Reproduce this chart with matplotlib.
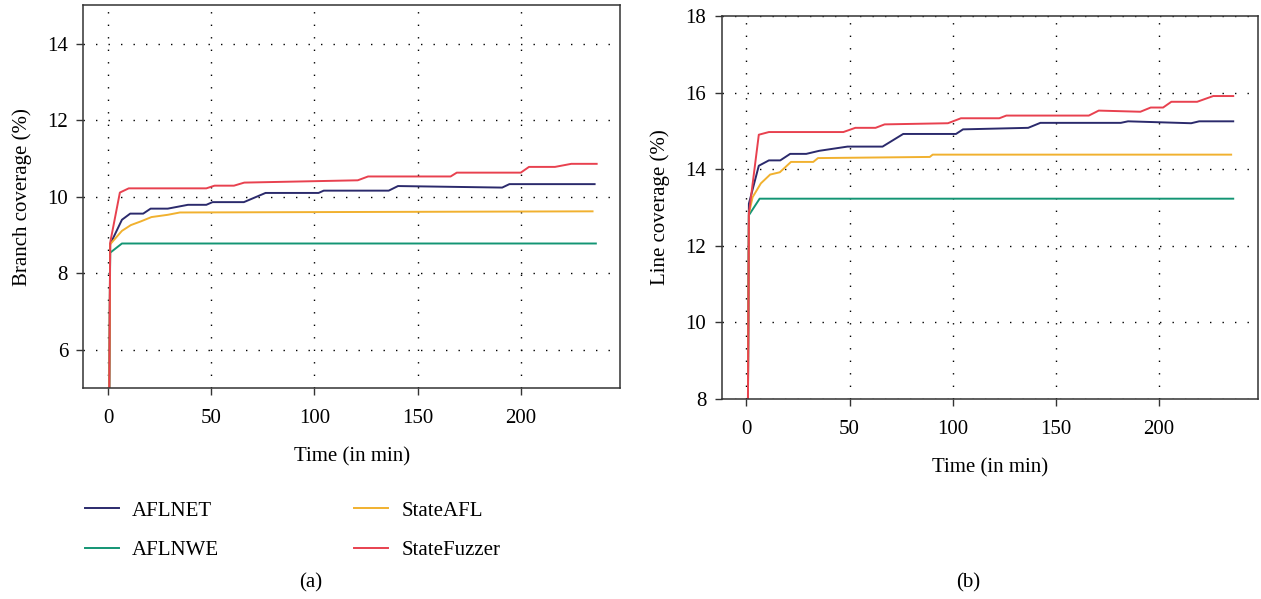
import numpy as np
import matplotlib
matplotlib.use("Agg")
import matplotlib.pyplot as plt

plt.rcParams['font.family'] = ['Liberation Serif', 'DejaVu Serif']
plt.rcParams['font.size'] = 15

names = ["AFLNET", "AFLNWE", "StateAFL", "StateFuzzer"]
colors = ["#2b2a6c", "#139574", "#f1b12f", "#e8414f"]

# (a) branch coverage, time in minutes
br_aflnet_t = [0, 1, 6.7, 10.7, 17, 20.6, 28.9, 38.7, 47.6, 50.6, 65.8, 76.3, 102, 104.5, 136, 140.5, 191, 194.5, 235.8]
br_aflnet_v = [0, 8.76, 9.40, 9.56, 9.56, 9.69, 9.69, 9.79, 9.79, 9.86, 9.86, 10.10, 10.10, 10.16, 10.16, 10.28, 10.24, 10.33, 10.33]
br_aflnwe_t = [0, 1, 6.7, 236.4]
br_aflnwe_v = [0, 8.54, 8.78, 8.78]
br_stateafl_t = [0, 1, 6.7, 11, 16, 21, 29, 34.8, 234.8]
br_stateafl_v = [0, 8.76, 9.11, 9.26, 9.36, 9.47, 9.53, 9.59, 9.62]
br_statefz_t = [0, 1, 5.7, 10, 47.6, 51.6, 61, 66, 121, 126, 166, 169, 200, 204, 216.6, 224.5, 236.8]
br_statefz_v = [0, 8.8, 10.11, 10.22, 10.22, 10.29, 10.29, 10.37, 10.43, 10.53, 10.53, 10.63, 10.63, 10.78, 10.78, 10.86, 10.86]

# (b) line coverage
ln_aflnet_t = [0, 1.2, 6, 10.9, 16.4, 21.2, 29, 35.3, 49, 66, 76, 101.6, 105, 136.6, 142.5, 181.5, 185, 215.6, 219.5, 236]
ln_aflnet_v = [0, 13.10, 14.09, 14.23, 14.23, 14.40, 14.40, 14.48, 14.59, 14.59, 14.92, 14.92, 15.04, 15.08, 15.21, 15.21, 15.25, 15.20, 15.25, 15.25]
ln_aflnwe_t = [0, 1.2, 6.4, 236]
ln_aflnwe_v = [0, 12.80, 13.23, 13.23]
ln_stateafl_t = [0, 1.2, 3, 7, 11.5, 16.2, 21.6, 32.4, 34.7, 88.9, 90.3, 235]
ln_stateafl_v = [0, 12.84, 13.27, 13.63, 13.86, 13.92, 14.19, 14.19, 14.29, 14.32, 14.38, 14.38]
ln_statefz_t = [0, 1.2, 6, 10.9, 47, 52.8, 62.6, 67, 97.7, 104, 122.6, 126, 166, 170.8, 191, 196, 202, 206, 218.5, 226.3, 236]
ln_statefz_v = [0, 12.84, 14.90, 14.97, 14.97, 15.08, 15.08, 15.17, 15.20, 15.33, 15.33, 15.40, 15.40, 15.53, 15.50, 15.61, 15.61, 15.76, 15.76, 15.91, 15.91]

x_ticks = [0, 50, 100, 150, 200]


def style_axes(ax, yticks, ylim, ylabel):
    ax.set_xlim(-12, 248)
    ax.set_ylim(*ylim)
    ax.set_xticks(x_ticks)
    ax.set_yticks(yticks)
    ax.grid(True, color="black", linestyle=(0, (1, 8)), linewidth=1.0)
    ax.tick_params(direction="out", length=5, width=1, color="#333333")
    ax.tick_params(axis="x", pad=10)
    ax.tick_params(axis="y", pad=6)
    for s in ax.spines.values():
        s.set_linewidth(1.1)
        s.set_color("#333333")
    ax.set_xlabel("Time (in min)", labelpad=14)
    ax.set_ylabel(ylabel, labelpad=11)


fig = plt.figure(figsize=(12.61, 5.99), dpi=100)
ax1 = fig.add_axes([0.0661, 0.3518, 0.4254, 0.6394])
ax2 = fig.add_axes([0.5723, 0.3339, 0.4253, 0.6394])

left_data = [(br_aflnet_t, br_aflnet_v), (br_aflnwe_t, br_aflnwe_v),
             (br_stateafl_t, br_stateafl_v), (br_statefz_t, br_statefz_v)]
right_data = [(ln_aflnet_t, ln_aflnet_v), (ln_aflnwe_t, ln_aflnwe_v),
              (ln_stateafl_t, ln_stateafl_v), (ln_statefz_t, ln_statefz_v)]

handles = []
for (t, v), c, n in zip(left_data, colors, names):
    h, = ax1.plot(t, v, color=c, linewidth=1.4, label=n)
    handles.append(h)
for (t, v), c in zip(right_data, colors):
    ax2.plot(t, v, color=c, linewidth=1.4)

style_axes(ax1, [6, 8, 10, 12, 14], (5, 15), "Branch coverage (%)")
style_axes(ax2, [8, 10, 12, 14, 16, 18], (8, 18), "Line coverage (%)")

fig.legend(handles, names, ncol=2, loc="upper left", bbox_to_anchor=(0.0523, 0.195),
           frameon=False, handlelength=1.63, handletextpad=0.63,
           columnspacing=6.5, labelspacing=0.95, fontsize=15)

fig.text(0.2466, 0.027, "(a)", ha="center", va="center", fontsize=15)
fig.text(0.768, 0.027, "(b)", ha="center", va="center", fontsize=15)

fig.savefig("out.png", dpi=100)
